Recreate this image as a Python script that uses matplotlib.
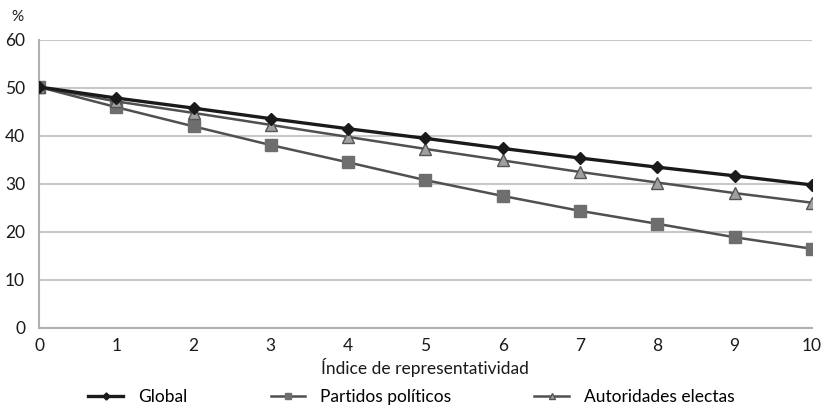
import matplotlib.pyplot as plt
import numpy as np

plt.rcParams['font.family'] = ['Lato', 'DejaVu Sans']

# Data
indice = [0, 1, 2, 3, 4, 5, 6, 7, 8, 9, 10]
glob = [50.2, 47.9, 45.8, 43.6, 41.5, 39.5, 37.4, 35.4, 33.5, 31.7, 29.8]
partidos = [50.2, 46.0, 42.0, 38.1, 34.5, 30.8, 27.5, 24.4, 21.7, 18.9, 16.5]
autoridades = [50.2, 47.2, 44.8, 42.3, 39.8, 37.3, 34.9, 32.5, 30.3, 28.1, 26.1]

fig = plt.figure(figsize=(8.23, 4.12), dpi=100)
ax = fig.add_axes([0.0474, 0.204, 0.939, 0.699])

ax.plot(indice, glob, color='#1a1a1a', lw=2.4, marker='D', ms=6,
        mfc='#1a1a1a', mec='#1a1a1a', label='Global', zorder=5)
ax.plot(indice, partidos, color='#505050', lw=1.8, marker='s', ms=8,
        mfc='#6e6e6e', mec='#6e6e6e', label='Partidos políticos', zorder=3)
ax.plot(indice, autoridades, color='#505050', lw=1.8, marker='^', ms=8,
        mfc='#a0a0a0', mec='#555555', mew=1.0, label='Autoridades electas', zorder=4)

ax.set_xlim(0, 10)
ax.set_ylim(0, 60)
ax.set_xticks(indice)
ax.set_yticks(np.arange(0, 61, 10))
ax.yaxis.grid(True, color='#c8c8c8', lw=1.5)
ax.set_axisbelow(True)
for s in ['top', 'right']:
    ax.spines[s].set_visible(False)
for s in ['left', 'bottom']:
    ax.spines[s].set_color('#b0b0b0')
    ax.spines[s].set_linewidth(1.5)
ax.tick_params(length=0, labelsize=12.5, colors='#1a1a1a', pad=7)
ax.tick_params(axis='y', pad=10)
ax.set_xlabel('Índice de representatividad', fontsize=12.5, color='#1a1a1a', labelpad=3)
fig.text(0.014, 0.958, '%', fontsize=11, color='#1a1a1a', va='center')

fig.legend(loc='lower center', bbox_to_anchor=(0.5, -0.02), ncol=3, frameon=False,
           fontsize=12.5, columnspacing=4.8, handlelength=2.0, handletextpad=0.85,
           markerscale=0.6)

fig.savefig('out.png', dpi=100)
